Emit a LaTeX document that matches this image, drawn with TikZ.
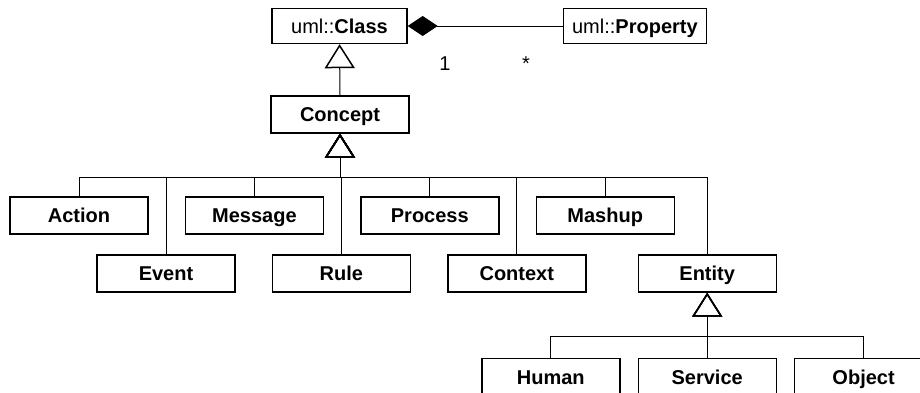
\documentclass[tikz,border=0pt]{standalone}
\usepackage{fontspec}
\setmainfont{Liberation Sans}
\usetikzlibrary{arrows.meta, positioning}
\tikzset{
  umlbox/.style  = {draw, line width=1.4pt, fill=white,
                    minimum width=138pt, minimum height=37pt,
                    text height=14.3pt, text depth=0pt,
                    font=\fontsize{20}{24}\selectfont\bfseries, align=center, inner sep=0pt},
  umlext/.style  = {draw, line width=1.4pt, fill=white,
                    minimum height=35pt, text height=14.3pt, text depth=0pt,
                    font=\fontsize{20}{24}\selectfont, align=center, inner sep=0pt},
  genl/.style    = {-{Triangle[open, length=24pt, width=30pt, line width=1.5pt]}, line width=1pt},
  compo/.style   = {{Diamond[length=30pt, width=20pt]}-, line width=1pt},
  multlbl/.style = {font=\fontsize{20}{24}\selectfont, inner sep=0pt, anchor=base},
}

\begin{document}
\begin{tikzpicture}[x=1pt, y=-1pt, node distance=21pt and 36pt]
    \useasboundingbox (0,0) rectangle (920,392);
    % Metamodel root
    \node[umlext, minimum width=135pt]                (cls)  at (339.5,26) {uml::\textbf{Class}};
    \node[umlext, minimum width=143pt, right=155pt of cls] (prop) {uml::\textbf{Property}};
    \node[umlbox]                                     (cpt)  at (340,114.5) {Concept};
    % Row 1
    \node[umlbox]                     (act)  at (79,215.5) {Action};
    \node[umlbox, right=of act]       (msg)  {Message};
    \node[umlbox, right=of msg]       (proc) {Process};
    \node[umlbox, right=of proc]      (mash) {Mashup};
    % Row 2
    \node[umlbox]                     (evt)  at (166,273.5) {Event};
    \node[umlbox, right=of evt]       (rule) {Rule};
    \node[umlbox, right=of rule]      (ctx)  {Context};
    \node[umlbox, right=51pt of ctx]  (ent)  {Entity};
    % Row 3 : kinds of entity
    \node[umlbox, below=65pt of ent]  (srv)  {Service};
    \node[umlbox, left=17pt of srv]   (hum)  {Human};
    \node[umlbox, right=17pt of srv]  (obj)  {Object};

    \coordinate[below=44pt of cpt.south] (cbus);
    \coordinate[below=44pt of ent.south] (ebus);

    \draw[compo] (cls) -- (prop);
    \draw[genl] (cpt) -- (cls);
    \foreach \k in {act,evt,msg,rule,proc,ctx,mash,ent}
      \draw[genl] (\k.north) |- (cbus) -- (cpt.south);
    \foreach \k in {hum,srv,obj}
      \draw[genl] (\k.north) |- (ebus) -- (ent.south);

    \node[multlbl] (mone)  at (445,70) {1};
    \node[multlbl] (mmany) at (526,70) {*};
\end{tikzpicture}
\end{document}
